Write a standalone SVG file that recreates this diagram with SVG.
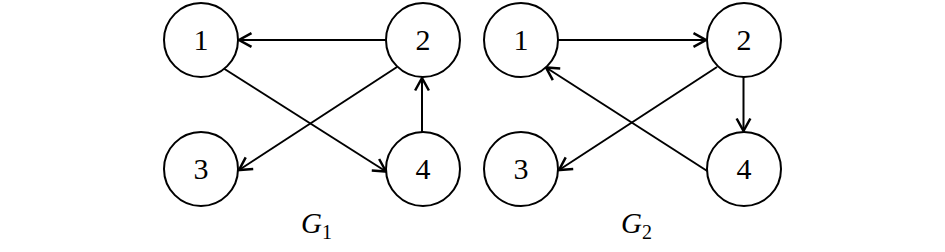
<svg xmlns="http://www.w3.org/2000/svg" width="945" height="252" viewBox="0 0 945 252">
<style>
.node circle{fill:#fff;stroke:#000;stroke-width:2}
.node text{font-family:"Liberation Serif","Times New Roman",serif;font-size:30px;text-anchor:middle;fill:#000}
.edges line{stroke:#000;stroke-width:2;fill:none;marker-end:url(#arr)}
.lbl{font-family:"Liberation Serif","Times New Roman",serif;font-size:29px;font-style:italic;fill:#000}
.sub{font-size:20px;font-style:normal}
</style>
<defs>
<marker id="arr" markerUnits="userSpaceOnUse" markerWidth="20" markerHeight="20" viewBox="-12 -8 14 16" refX="0" refY="0" orient="auto" overflow="visible">
<path d="M-10,-5.5 L0,0 L-10,5.5" fill="none" stroke="#000" stroke-width="2"/>
</marker>
</defs>
<rect width="945" height="252" fill="#fff"/>
<g id="edges" class="edges">
<line x1="386" y1="40" x2="239" y2="40"/>
<line x1="223" y1="68" x2="386" y2="171.5"/>
<line x1="397" y1="67" x2="239" y2="170"/>
<line x1="422" y1="132" x2="422" y2="78"/>
<line x1="558" y1="40" x2="706" y2="40"/>
<line x1="743.5" y1="77" x2="743.5" y2="131"/>
<line x1="717" y1="67" x2="559" y2="170"/>
<line x1="708" y1="171.5" x2="546" y2="67.5"/>
</g>
<g id="g1n1" class="node"><circle cx="201" cy="40" r="37"/><text x="201" y="49.5">1</text></g>
<g id="g1n2" class="node"><circle cx="423" cy="40" r="37"/><text x="423" y="49.5">2</text></g>
<g id="g1n3" class="node"><circle cx="201" cy="169" r="37"/><text x="201" y="178.5">3</text></g>
<g id="g1n4" class="node"><circle cx="423" cy="169" r="37"/><text x="423" y="178.5">4</text></g>
<g id="g2n1" class="node"><circle cx="521" cy="40" r="37"/><text x="521" y="49.5">1</text></g>
<g id="g2n2" class="node"><circle cx="744" cy="40" r="37"/><text x="744" y="49.5">2</text></g>
<g id="g2n3" class="node"><circle cx="521" cy="169" r="37"/><text x="521" y="178.5">3</text></g>
<g id="g2n4" class="node"><circle cx="744" cy="169" r="37"/><text x="744" y="178.5">4</text></g>
<g id="label1"><text class="lbl" x="301" y="233">G<tspan class="sub" dy="6">1</tspan></text></g>
<g id="label2"><text class="lbl" x="621" y="233">G<tspan class="sub" dy="6">2</tspan></text></g>
</svg>
